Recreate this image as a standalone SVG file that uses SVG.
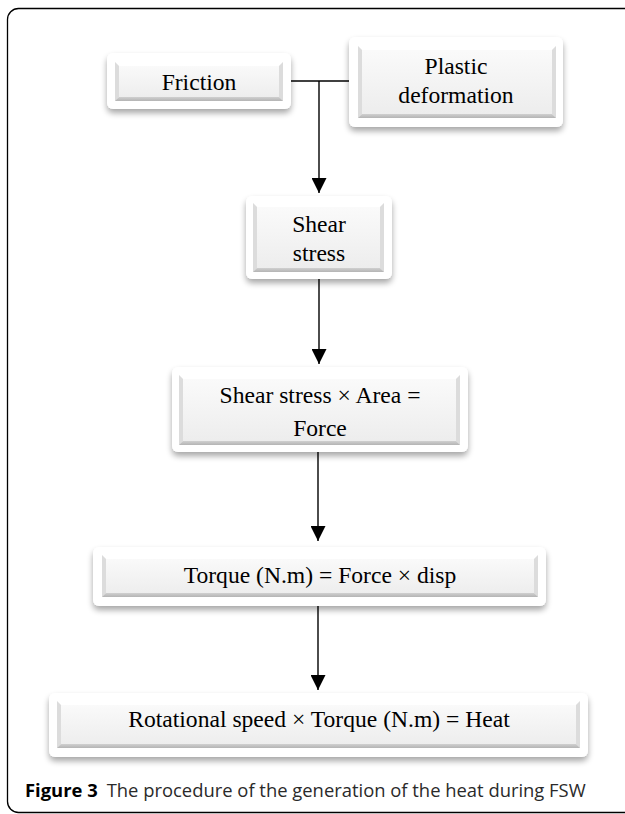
<svg xmlns="http://www.w3.org/2000/svg" width="625" height="814" viewBox="0 0 625 814">
<defs>
  <filter id="sh" x="-10%" y="-20%" width="120%" height="150%">
    <feGaussianBlur in="SourceAlpha" stdDeviation="3"/>
    <feOffset dx="0" dy="4" result="b"/>
    <feComponentTransfer><feFuncA type="linear" slope="0.35"/></feComponentTransfer>
    <feMerge><feMergeNode/><feMergeNode in="SourceGraphic"/></feMerge>
  </filter>
  <linearGradient id="face" x1="0" y1="0" x2="0" y2="1">
    <stop offset="0" stop-color="#fbfbfb"/>
    <stop offset="1" stop-color="#ececec"/>
  </linearGradient>
  <linearGradient id="bot" x1="0" y1="0" x2="0" y2="1">
    <stop offset="0" stop-color="#d0d0d0"/>
    <stop offset="1" stop-color="#b4b4b4"/>
  </linearGradient>
  <marker id="ah" viewBox="0 0 10 10" refX="10" refY="5" markerWidth="15" markerHeight="15" markerUnits="userSpaceOnUse" orient="auto">
    <path d="M0,0 L10,5 L0,10 Z" fill="#000"/>
  </marker>
</defs>
<style>
  .outer{fill:#ffffff;filter:url(#sh);}
  .face{fill:url(#face);}
  .bt{fill:#ffffff;}
  .bb{fill:url(#bot);}
  .bs{fill:#dcdcdc;}
  .t{font-family:"Liberation Serif","Times New Roman",serif;font-size:23.6px;fill:#000;text-anchor:middle;}
  .c{stroke:#000;stroke-width:1.4;fill:none;}
  .cap{font-family:"Open Sans","Noto Sans",sans-serif;font-size:18.4px;fill:#2a2a2a;}
</style>
<rect x="7.5" y="8.5" width="720" height="804" rx="11" fill="none" stroke="#000" stroke-width="1.3"/>

<g id="connectors">
  <path class="c" d="M291,81 H349" stroke-width="1.6"/>
  <path class="c" d="M319,81 V193" stroke-width="1.8" marker-end="url(#ah)"/>
  <path class="c" d="M319,279 V364" marker-end="url(#ah)"/>
  <path class="c" d="M318,452 V541" marker-end="url(#ah)"/>
  <path class="c" d="M318,606 V690" marker-end="url(#ah)"/>
</g>

<g id="friction">
  <rect class="outer" x="107" y="53" width="184" height="56" rx="6"/>
  <rect class="face" x="115" y="62" width="168" height="39"/>
  <polygon class="bt" points="115,62 283,62 279,66 119,66"/>
  <polygon class="bs" points="115,62 119,66 119,97 115,101"/>
  <polygon class="bs" points="283,62 279,66 279,97 283,101"/>
  <polygon class="bb" points="115,101 119,97 279,97 283,101"/>
  <text class="t" x="199" y="90">Friction</text>
</g>

<g id="plastic">
  <rect class="outer" x="349" y="37" width="214" height="90" rx="6"/>
  <rect class="face" x="358" y="46" width="198" height="72"/>
  <polygon class="bt" points="358,46 556,46 552,50 362,50"/>
  <polygon class="bs" points="358,46 362,50 362,114 358,118"/>
  <polygon class="bs" points="556,46 552,50 552,114 556,118"/>
  <polygon class="bb" points="358,118 362,114 552,114 556,118"/>
  <text class="t" x="456" y="74">Plastic</text>
  <text class="t" x="456" y="103">deformation</text>
</g>

<g id="shear">
  <rect class="outer" x="246" y="196" width="146" height="83" rx="6"/>
  <rect class="face" x="253" y="203" width="131" height="69"/>
  <polygon class="bt" points="253,203 384,203 380,207 257,207"/>
  <polygon class="bs" points="253,203 257,207 257,268 253,272"/>
  <polygon class="bs" points="384,203 380,207 380,268 384,272"/>
  <polygon class="bb" points="253,272 257,268 380,268 384,272"/>
  <text class="t" x="319" y="232">Shear</text>
  <text class="t" x="319" y="261">stress</text>
</g>

<g id="force">
  <rect class="outer" x="172" y="367" width="296" height="85" rx="6"/>
  <rect class="face" x="179" y="375" width="281" height="70"/>
  <polygon class="bt" points="179,375 460,375 456,379 183,379"/>
  <polygon class="bs" points="179,375 183,379 183,441 179,445"/>
  <polygon class="bs" points="460,375 456,379 456,441 460,445"/>
  <polygon class="bb" points="179,445 183,441 456,441 460,445"/>
  <text class="t" x="320" y="403">Shear stress × Area =</text>
  <text class="t" x="320" y="436">Force</text>
</g>

<g id="torque">
  <rect class="outer" x="93" y="547" width="453" height="59" rx="6"/>
  <rect class="face" x="102" y="555" width="436" height="42"/>
  <polygon class="bt" points="102,555 538,555 534,559 106,559"/>
  <polygon class="bs" points="102,555 106,559 106,593 102,597"/>
  <polygon class="bs" points="538,555 534,559 534,593 538,597"/>
  <polygon class="bb" points="102,597 106,593 534,593 538,597"/>
  <text class="t" x="320" y="583">Torque (N.m) = Force × disp</text>
</g>

<g id="heat">
  <rect class="outer" x="49" y="693" width="539" height="64" rx="6"/>
  <rect class="face" x="57" y="701" width="523" height="47"/>
  <polygon class="bt" points="57,701 580,701 576,705 61,705"/>
  <polygon class="bs" points="57,701 61,705 61,744 57,748"/>
  <polygon class="bs" points="580,701 576,705 576,744 580,748"/>
  <polygon class="bb" points="57,748 61,744 576,744 580,748"/>
  <text class="t" x="319" y="727">Rotational speed × Torque (N.m) = Heat</text>
</g>

<text class="cap" x="25" y="797"><tspan font-weight="bold" fill="#000">Figure 3</tspan><tspan dx="9">The procedure of the generation of the heat during FSW</tspan></text>
</svg>
